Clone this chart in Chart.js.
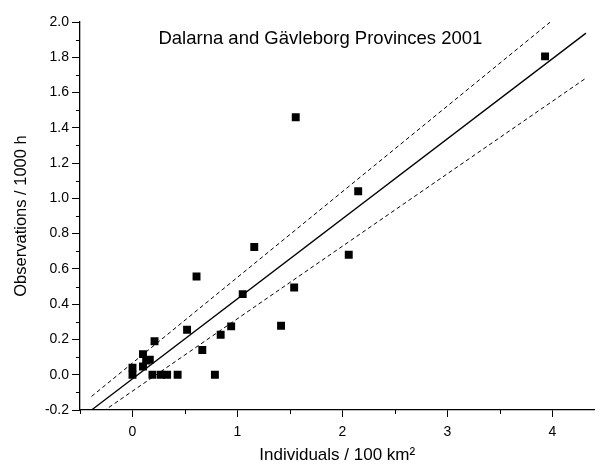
<!DOCTYPE html>
<html>
<head>
<meta charset="utf-8">
<script src="https://cdn.jsdelivr.net/npm/chart.js@4"></script>
<style>
html,body{margin:0;padding:0;background:#fff;}
#wrap{width:600px;height:466px;}
</style>
</head>
<body>
<div id="wrap"><canvas id="c" width="600" height="466"></canvas></div>
<script>
const titleText = "Dalarna and Gävleborg Provinces 2001";
const xTitle = "Individuals / 100 km²";
const yTitle = "Observations / 1000 h";

const obsX = [0, 0, 0.10, 0.10, 0.13, 0.165, 0.21, 0.19, 0.27, 0.33, 0.43, 0.52, 0.61, 0.665, 0.785, 0.84, 0.94, 1.05, 1.16, 1.415, 1.54, 1.555, 2.06, 2.15, 3.93];
const obsY = [0.04, 0, 0.117, 0.047, 0.08, 0.085, 0.19, 0, 0, 0, 0, 0.255, 0.557, 0.14, 0, 0.227, 0.274, 0.457, 0.724, 0.278, 0.495, 1.46, 0.68, 1.04, 1.805];

const fitX = [-0.39, 4.32];
const fitY = [-0.2, 1.937];
const upperX = [-0.39, 3.98];
const upperY = [-0.123, 2.0];
const lowerX = [-0.28, 4.32];
const lowerY = [-0.208, 1.682];

const xTicks = [0, 1, 2, 3, 4];
const xMinorTicks = [-0.5, 0.5, 1.5, 2.5, 3.5];
const yTicks = [-0.2, 0, 0.2, 0.4, 0.6, 0.8, 1.0, 1.2, 1.4, 1.6, 1.8, 2.0];
const yMinorTicks = [-0.1, 0.1, 0.3, 0.5, 0.7, 0.9, 1.1, 1.3, 1.5, 1.7, 1.9];

const pts = (xs, ys) => xs.map((x, i) => ({x: x, y: ys[i]}));
const FONT = "'Liberation Sans', Arial, Helvetica, sans-serif";

const extras = {
  id: 'extras',
  afterDraw(chart) {
    const ctx = chart.ctx;
    const xs = chart.scales.x, ys = chart.scales.y;
    const ca = chart.chartArea;
    ctx.save();
    ctx.strokeStyle = '#000';
    ctx.lineWidth = 1;
    yMinorTicks.forEach(v => {
      const p = Math.round(ys.getPixelForValue(v)) + 0.5;
      ctx.beginPath(); ctx.moveTo(ca.left - 4, p); ctx.lineTo(ca.left, p); ctx.stroke();
    });
    xMinorTicks.forEach(v => {
      const p = Math.round(xs.getPixelForValue(v)) + 0.5;
      ctx.beginPath(); ctx.moveTo(p, ca.bottom); ctx.lineTo(p, ca.bottom + 4); ctx.stroke();
    });
    ctx.fillStyle = '#000';
    ctx.font = "18.5px " + FONT;
    ctx.textAlign = 'center';
    ctx.textBaseline = 'middle';
    ctx.fillText(titleText, xs.getPixelForValue(1.79), ys.getPixelForValue(1.905));
    ctx.restore();
  }
};

new Chart(document.getElementById('c'), {
  type: 'scatter',
  data: {
    datasets: [
      {type: 'line', data: pts(fitX, fitY), borderColor: '#000', borderWidth: 1.3, pointRadius: 0, fill: false, tension: 0},
      {type: 'line', data: pts(upperX, upperY), borderColor: '#000', borderWidth: 1, borderDash: [4, 3], pointRadius: 0, fill: false, tension: 0},
      {type: 'line', data: pts(lowerX, lowerY), borderColor: '#000', borderWidth: 1, borderDash: [4, 3], pointRadius: 0, fill: false, tension: 0},
      {data: pts(obsX, obsY), pointStyle: 'rect', pointRadius: 5.6, pointHoverRadius: 5.6, backgroundColor: '#000', borderWidth: 0}
    ]
  },
  options: {
    responsive: false,
    animation: false,
    events: [],
    layout: {padding: {top: 22, right: 0, left: 0, bottom: 0}},
    plugins: {legend: {display: false}, tooltip: {enabled: false}, title: {display: false}},
    scales: {
      x: {
        type: 'linear', min: -0.5, max: 4.4,
        afterBuildTicks: s => { s.ticks = xTicks.map(v => ({value: v})); },
        afterFit: s => { s.height = 56; },
        border: {display: true, color: '#000', width: 1.3},
        grid: {display: true, drawOnChartArea: false, drawTicks: true, tickLength: 7, color: '#000', tickWidth: 1},
        ticks: {color: '#000', font: {family: FONT, size: 14}, padding: 7, maxRotation: 0, callback: v => String(v)},
        title: {display: true, text: xTitle, color: '#000', font: {family: FONT, size: 17}, padding: {top: 6, bottom: 0}}
      },
      y: {
        type: 'linear', min: -0.2, max: 2.0,
        afterBuildTicks: s => { s.ticks = yTicks.map(v => ({value: v})); },
        afterFit: s => { s.width = 80; },
        border: {display: true, color: '#000', width: 1.3},
        grid: {display: true, drawOnChartArea: false, drawTicks: true, tickLength: 8, color: '#000', tickWidth: 1},
        ticks: {color: '#000', font: {family: FONT, size: 14}, padding: 3, callback: v => Number(v).toFixed(1)},
        title: {display: true, text: yTitle, color: '#000', font: {family: FONT, size: 16.5}, padding: {top: 12, bottom: 4}}
      }
    }
  },
  plugins: [extras]
});
</script>
</body>
</html>
